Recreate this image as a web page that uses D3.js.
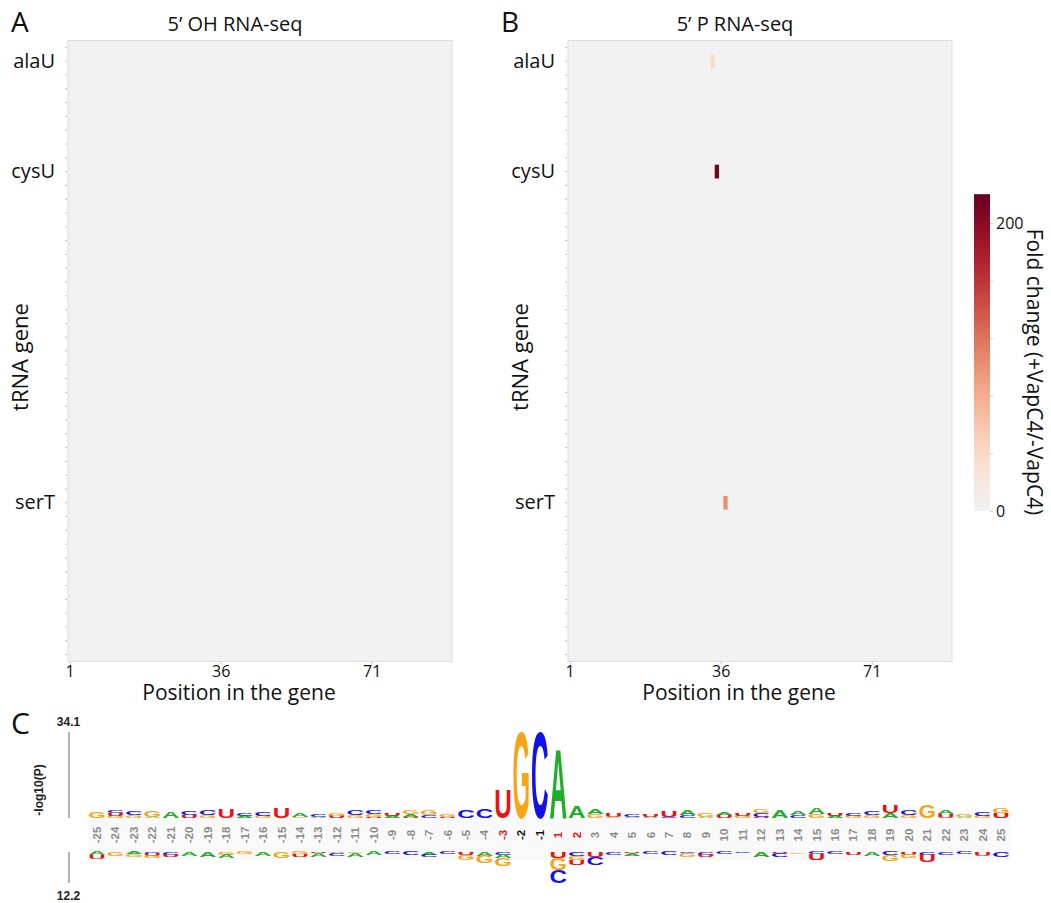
<!DOCTYPE html>
<html>
<head>
<meta charset="utf-8">
<script src="https://cdn.jsdelivr.net/npm/d3@7"></script>
<style>
  body { margin: 0; background: #fff; }
  text { font-family: "Open Sans", sans-serif; }
</style>
</head>
<body>
<svg id="chart" width="1051" height="903"></svg>
<script>
// ---- heatmap data -------------------------------------------------------
// 45 tRNA gene rows, only three are named on the axis
const rowCount = 45;
const namedGenes = ["alaU", "cysU", "serT"];
const namedRows = [1, 9, 33];
const genePositions = 89;            // positions 1..89 along the gene
const xTickValues = [1, 36, 71];

// 5' OH RNA-seq: no enriched cleavage site
const ohGene = [];
const ohPos = [];
const ohFold = [];

// 5' P RNA-seq
const pGene = ["alaU", "cysU", "serT"];
const pPos = [34, 35, 37];
const pFold = [38, 212, 100];

// colour bar
const foldMax = 220;
const foldTicks = [0, 40, 80, 120, 160, 200];
const foldLabelled = [0, 200];

// ---- logo data (panel C) ---------------------------------------------------
const logoPos = [-25, -24, -23, -22, -21, -20, -19, -18, -17, -16, -15, -14, -13,
  -12, -11, -10, -9, -8, -7, -6, -5, -4, -3, -2, -1,
  1, 2, 3, 4, 5, 6, 7, 8, 9, 10, 11, 12, 13, 14, 15, 16, 17, 18, 19, 20, 21, 22, 23, 24, 25];

// enriched residues (above the axis), [letter, -log10(P)]
const logoUp = [
  [["G", 2.5]], [["C", 1.2], ["U", 1], ["G", 0.8]], [["C", 1.5], ["G", 1]], [["G", 2.5], ["A", 0.4]],
  [["A", 2.5]], [["C", 1.4], ["U", 1]], [["C", 2], ["G", 1]], [["U", 3.5]],
  [["C", 1.2], ["A", 0.8]], [["C", 1.5], ["G", 0.7]], [["U", 4]], [["A", 1.5], ["G", 0.4]],
  [["C", 1.1], ["A", 0.5]], [["G", 1.2], ["U", 0.8]], [["C", 2], ["G", 1]], [["C", 1.3], ["G", 1], ["U", 0.5]],
  [["U", 1.2], ["A", 0.8]], [["G", 1.5], ["A", 1], ["U", 0.5]], [["G", 2], ["C", 1]], [["G", 0.8], ["U", 0.5]],
  [["C", 3]], [["C", 3.5]], [["U", 11]], [["G", 33.6]], [["C", 33.6]],
  [["A", 27]], [["A", 4.5]], [["A", 2], ["G", 1.5]], [["U", 1.5], ["G", 0.5]], [["C", 1], ["A", 0.5]],
  [["U", 1], ["A", 0.5]], [["U", 2.5], ["C", 0.5]], [["A", 2], ["C", 1]], [["G", 1.5], ["A", 0.5]],
  [["U", 1], ["A", 1]], [["U", 1], ["G", 0.8]], [["C", 1.5], ["G", 1.5], ["U", 0.5]], [["A", 3]],
  [["A", 1.5], ["C", 1]], [["A", 2.5], ["G", 1.5]], [["U", 1.2], ["A", 0.8]], [["C", 1], ["G", 0.8]],
  [["C", 1.3], ["G", 1]], [["U", 3], ["A", 2]], [["C", 2], ["G", 1]], [["G", 5]],
  [["U", 1.5], ["A", 1.5]], [["G", 1.2], ["A", 0.5]], [["C", 1.5], ["G", 0.8]], [["U", 2], ["G", 2]]
];

// depleted residues (below the axis)
const logoDown = [
  [["U", 1.5], ["A", 1.2]], [["G", 1.5]], [["G", 1], ["A", 0.8]], [["U", 1], ["G", 1], ["C", 0.5]],
  [["C", 1], ["U", 1]], [["A", 1.5]], [["A", 2]], [["A", 1.2], ["G", 1]],
  [["G", 0.8]], [["A", 1.5]], [["G", 2.5]], [["U", 1], ["G", 0.8]],
  [["A", 1.3], ["U", 0.5]], [["C", 1], ["A", 0.5]], [["A", 1.5], ["G", 0.5]], [["A", 1.3]],
  [["C", 0.8]], [["C", 1.3]], [["A", 1], ["C", 1]], [["C", 0.8]],
  [["G", 2], ["U", 1]], [["G", 3], ["A", 1.5]], [["G", 3], ["C", 1], ["A", 1.5]], [], [],
  [["C", 5.2], ["G", 4.5], ["U", 2.5]], [["U", 2], ["C", 1.5], ["G", 1.5]], [["C", 3], ["U", 2]], [["C", 1]], [["A", 1], ["U", 0.5]],
  [["C", 0.8]], [["C", 1.3]], [["G", 1.5], ["C", 0.5]], [["C", 1], ["U", 1]],
  [["C", 0.8]], [["C", 0.5]], [["A", 2]], [["C", 1.5], ["U", 0.5]],
  [["G", 0.6]], [["U", 2.5], ["C", 0.8]], [["C", 0.8]], [["U", 1]],
  [["A", 1.5]], [["G", 2.5], ["C", 1.2]], [["G", 1.2], ["U", 1]], [["U", 3], ["C", 1]],
  [["C", 1]], [["C", 0.7]], [["U", 1.5]], [["C", 2]]
];
const logoMaxUp = 34.1;
const logoMaxDown = 12.2;
const redLabels = [-3, 1, 2];
const blackLabels = [-2, -1];

// ---- drawing ---------------------------------------------------------------
const svg = d3.select("#chart");

const color = d3.scaleSequential()
  .domain([0, foldMax])
  .interpolator(d3.interpolateRgbBasis(["#f2f2f2", "#fddbc7", "#f4a582", "#d6604d", "#b2182b", "#67001f"]));

function heatPanel (opts) {
  const g = svg.append("g");
  const x = d3.scaleBand()
    .domain(d3.range(1, genePositions + 1))
    .range([opts.left, opts.left + 384]);
  const y = d3.scaleBand()
    .domain(d3.range(rowCount))
    .range([40.5, 661.5]);

  g.append("rect")
    .attr("x", opts.left)
    .attr("y", 40.5)
    .attr("width", 384)
    .attr("height", 621)
    .attr("fill", color(0))
    .attr("stroke", "#dedede")
    .attr("stroke-width", 1);

  const cells = opts.gene.map((d, i) => ({ row: namedRows[namedGenes.indexOf(d)], pos: opts.pos[i], fold: opts.fold[i] }));
  g.selectAll("rect.cell")
    .data(cells)
    .join("rect")
    .attr("class", "cell")
    .attr("x", d => x(d.pos))
    .attr("y", d => y(d.row))
    .attr("width", x.bandwidth())
    .attr("height", y.bandwidth())
    .attr("fill", d => color(d.fold));

  const xAxis = d3.axisBottom(x).tickValues(xTickValues).tickSize(3).tickPadding(1);
  const gx = g.append("g")
    .attr("transform", "translate(0,661.5)")
    .call(xAxis);
  gx.select(".domain").remove();
  gx.selectAll("line").attr("stroke", "#c4c4c4");
  gx.selectAll("text").attr("font-size", 16).attr("fill", "#111").style("font-family", "Open Sans");

  const yAxis = d3.axisLeft(y)
    .tickSize(2)
    .tickPadding(10)
    .tickFormat(i => namedRows.includes(i) ? namedGenes[namedRows.indexOf(i)] : "");
  const gy = g.append("g")
    .attr("transform", `translate(${opts.left - 1},0)`)
    .call(yAxis);
  gy.select(".domain").remove();
  gy.selectAll("line").attr("stroke", "#c4c4c4");
  gy.selectAll("text").attr("font-size", 20).attr("fill", "#111").style("font-family", "Open Sans");

  g.append("text")
    .attr("x", opts.letterX)
    .attr("y", 32)
    .attr("font-size", 28)
    .attr("fill", "#111")
    .text(opts.letter);

  g.append("text")
    .attr("x", opts.left + 167)
    .attr("y", 31)
    .attr("text-anchor", "middle")
    .attr("font-size", 20)
    .attr("fill", "#111")
    .text(opts.title);

  g.append("text")
    .attr("transform", `translate(${opts.left - 40},357) rotate(-90)`)
    .attr("text-anchor", "middle")
    .attr("font-size", 22)
    .attr("fill", "#111")
    .text("tRNA gene");

  g.append("text")
    .attr("x", opts.left + 171)
    .attr("y", 700)
    .attr("text-anchor", "middle")
    .attr("font-size", 21)
    .attr("fill", "#111")
    .text("Position in the gene");
}

heatPanel({ left: 68, letterX: 11, letter: "A", title: "5\u2019 OH RNA-seq", gene: ohGene, pos: ohPos, fold: ohFold });
heatPanel({ left: 568, letterX: 501, letter: "B", title: "5\u2019 P RNA-seq", gene: pGene, pos: pPos, fold: pFold });

// colour bar
const cb = d3.scaleLinear().domain([0, 200]).range([511, 223]);
const defs = svg.append("defs");
const grad = defs.append("linearGradient")
  .attr("id", "foldGrad")
  .attr("x1", 0).attr("y1", 1).attr("x2", 0).attr("y2", 0);
grad.selectAll("stop")
  .data(d3.range(0, 1.0001, 0.05))
  .join("stop")
  .attr("offset", d => d)
  .attr("stop-color", d => color(d * foldMax));

svg.append("rect")
  .attr("x", 974)
  .attr("y", cb(foldMax))
  .attr("width", 16)
  .attr("height", cb(0) - cb(foldMax))
  .attr("fill", "url(#foldGrad)");

const cbAxis = d3.axisRight(cb)
  .tickValues(foldTicks)
  .tickSize(3)
  .tickPadding(3)
  .tickFormat(d => foldLabelled.includes(d) ? d : "");
const gcb = svg.append("g")
  .attr("transform", "translate(990,0)")
  .call(cbAxis);
gcb.select(".domain").remove();
gcb.selectAll("line").attr("stroke", "#d0d0d0");
gcb.selectAll("text").attr("font-size", 16).attr("fill", "#111").style("font-family", "Open Sans");

svg.append("text")
  .attr("transform", "translate(1027,372) rotate(90)")
  .attr("text-anchor", "middle")
  .attr("font-size", 21)
  .attr("fill", "#111")
  .text("Fold change (+VapC4/-VapC4)");

// ---- panel C: sequence logo -----------------------------------------------
const logoFont = "'Liberation Sans', Arial, sans-serif";
const baseColors = { A: "#1fae2a", C: "#1010f0", G: "#f7a515", U: "#ee1111" };

const lx = d3.scaleBand().domain(logoPos).range([87.8, 1010.3]);
const yUp = d3.scaleLinear().domain([0, logoMaxUp]).range([818, 732]);
const yDown = d3.scaleLinear().domain([0, logoMaxDown]).range([852, 883]);

const gc = svg.append("g");

gc.append("rect")
  .attr("x", lx.range()[0])
  .attr("y", 812)
  .attr("width", lx.range()[1] - lx.range()[0])
  .attr("height", 48)
  .attr("fill", "#f9f9f9");

// measure glyph advance widths to stretch letters into their boxes
const adv = {};
Object.keys(baseColors).forEach(ch => {
  const t = gc.append("text")
    .style("font-family", logoFont)
    .attr("font-weight", "bold")
    .attr("font-size", 100)
    .text(ch);
  adv[ch] = t.node().getComputedTextLength();
  t.remove();
});
const capH = 69;

function glyph (ch, cx, base, h) {
  const w = lx.bandwidth() * 0.95;
  gc.append("text")
    .style("font-family", logoFont)
    .attr("font-weight", "bold")
    .attr("font-size", 100)
    .attr("fill", baseColors[ch])
    .attr("transform", `translate(${cx - w / 2},${base}) scale(${w / adv[ch]},${h / capH})`)
    .text(ch);
}

logoPos.forEach((p, i) => {
  const cx = lx(p) + lx.bandwidth() / 2;
  let cur = yUp(0);
  logoUp[i].slice().sort((a, b) => a[1] - b[1]).forEach(([ch, v]) => {
    const h = yUp(0) - yUp(v);
    glyph(ch, cx, cur, h);
    cur -= h;
  });
  cur = yDown(0);
  logoDown[i].slice().sort((a, b) => a[1] - b[1]).forEach(([ch, v]) => {
    const h = yDown(v) - yDown(0);
    glyph(ch, cx, cur + h, h);
    cur += h;
  });
  gc.append("text")
    .attr("transform", `translate(${cx},835) rotate(-90)`)
    .attr("text-anchor", "middle")
    .attr("dominant-baseline", "central")
    .style("font-family", logoFont)
    .attr("font-weight", "bold")
    .attr("font-size", 11.5)
    .attr("fill", redLabels.includes(p) ? "#ee1111" : blackLabels.includes(p) ? "#111" : "#8a8a8a")
    .text(p);
});

// logo axis
gc.append("line")
  .attr("x1", 69).attr("x2", 69)
  .attr("y1", yUp(logoMaxUp)).attr("y2", yUp(0))
  .attr("stroke", "#9a9a9a").attr("stroke-width", 1.5);
gc.append("line")
  .attr("x1", 69).attr("x2", 69)
  .attr("y1", yDown(0)).attr("y2", yDown(logoMaxDown))
  .attr("stroke", "#9a9a9a").attr("stroke-width", 1.5);

gc.append("text")
  .attr("x", 68.5).attr("y", 726)
  .attr("text-anchor", "middle")
  .style("font-family", logoFont)
  .attr("font-weight", "bold")
  .attr("font-size", 12)
  .attr("fill", "#222")
  .text(logoMaxUp);
gc.append("text")
  .attr("x", 68.5).attr("y", 900)
  .attr("text-anchor", "middle")
  .style("font-family", logoFont)
  .attr("font-weight", "bold")
  .attr("font-size", 12)
  .attr("fill", "#222")
  .text(logoMaxDown);
gc.append("text")
  .attr("transform", "translate(43,790) rotate(-90)")
  .attr("text-anchor", "middle")
  .style("font-family", logoFont)
  .attr("font-weight", "bold")
  .attr("font-size", 12)
  .attr("fill", "#222")
  .text("-log10(P)");

gc.append("text")
  .attr("x", 11)
  .attr("y", 734)
  .attr("font-size", 30)
  .attr("fill", "#111")
  .text("C");
</script>
</body>
</html>
